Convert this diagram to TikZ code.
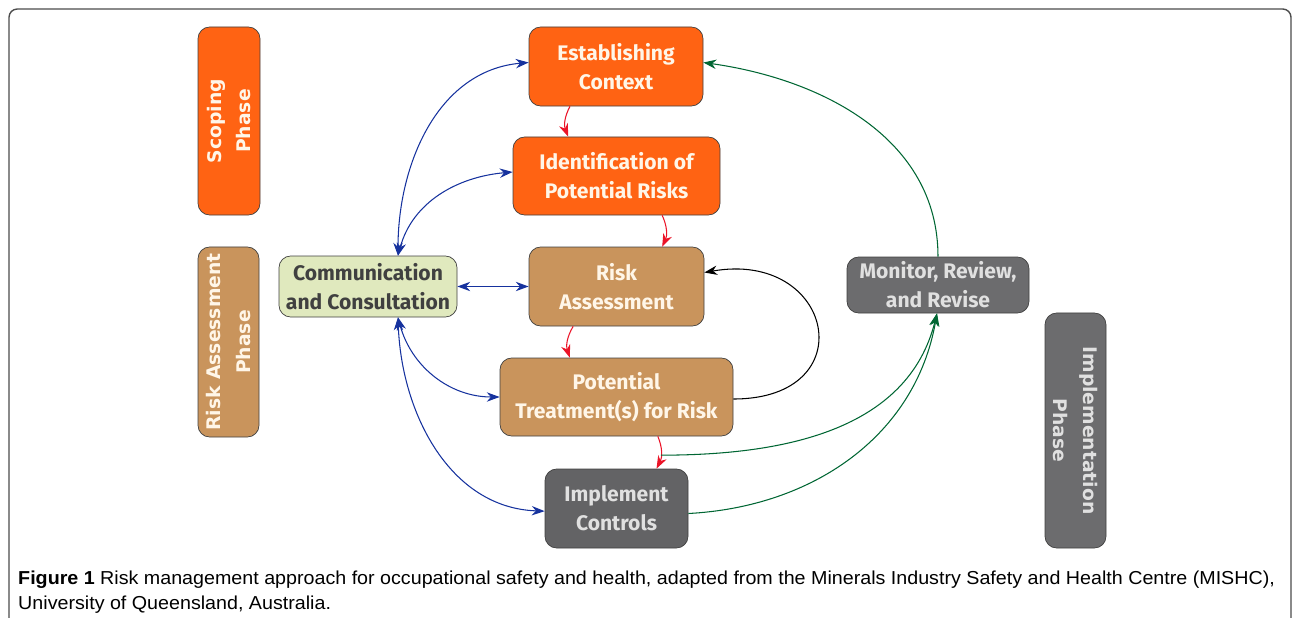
\documentclass[tikz,border=0pt]{standalone}
\usepackage{fontspec}
\setmainfont{Fira Sans}
\newfontfamily\capfont{Liberation Sans}
\newfontfamily\phasefont{DejaVu Sans}
\usetikzlibrary{calc,arrows.meta}
\definecolor{scopeorange}{RGB}{255,99,19}
\definecolor{assesstan}{RGB}{201,148,92}
\definecolor{implgray}{RGB}{108,108,110}
\definecolor{commgreen}{RGB}{224,233,190}
\definecolor{flowred}{RGB}{235,20,40}
\definecolor{flowblue}{RGB}{22,50,158}
\definecolor{flowgreen}{RGB}{0,102,51}
\definecolor{cream}{RGB}{255,246,232}
\newlength\capw
\newcommand\capone{\textbf{Figure 1} Risk management approach for occupational safety and health, adapted from the Minerals Industry Safety and Health Centre (MISHC),}
\newcommand\captwo{University of Queensland, Australia.}

\begin{document}
\settowidth\capw{\capfont\fontsize{16}{18}\selectfont\capone}
\begin{tikzpicture}[x=0.03cm,y=-0.03cm,>={Stealth[length=11pt,width=8pt]},
  box/.style={draw=black!75,line width=0.6pt,rounded corners=0.35cm,align=center,
    inner sep=1pt,font=\fontsize{18}{24.7}\selectfont\bfseries},
  phase/.style={font=\phasefont\fontsize{16}{25.5}\selectfont\bfseries},
  scopebox/.style={box,fill=scopeorange,text=cream},
  assessbox/.style={box,fill=assesstan,text=cream},
  implbox/.style={box,fill=implgray,text=black!12},
  commbox/.style={box,fill=commgreen,text=black!75},
  redflow/.style={->,flowred,line width=0.9pt},
  blueflow/.style={<->,flowblue,line width=0.9pt},
  greenflow/.style={->,flowgreen,line width=0.9pt}]
  \useasboundingbox (0,0) rectangle (1292,618);
  \draw[black!70,line width=1.2pt,rounded corners=0.25cm] (9,660)--(9,9)--(1291,9)--(1291,660);

  % phases
  \node[scopebox,phase,rotate=90,minimum width=5.64cm,minimum height=1.86cm] (scope) at (229,121) {Scoping\\Phase};
  \node[assessbox,phase,rotate=90,minimum width=5.7cm,minimum height=1.83cm] (assess) at (228.5,342) {Risk Assessment\\Phase};
  \node[implbox,phase,rotate=-90,minimum width=7.05cm,minimum height=1.83cm] (impl) at (1075.5,430.5) {Implementation\\Phase};

  % steps
  \node[scopebox,minimum width=5.22cm,minimum height=2.37cm] (ec) at (616,66.5) {Establishing\\Context};
  \node[scopebox,minimum width=6.21cm,minimum height=2.34cm] (ipr) at (616.5,176) {Identification of\\Potential Risks};
  \node[assessbox,minimum width=5.25cm,minimum height=2.37cm] (ra) at (616.5,286.5) {Risk\\Assessment};
  \node[assessbox,minimum width=6.99cm,minimum height=2.34cm] (pt) at (616.5,397) {Potential\\Treatment(s) for Risk};
  \node[implbox,fill=implgray!92!black,minimum width=4.29cm,minimum height=2.37cm] (ic) at (616.5,508.5) {Implement\\Controls};
  \node[commbox,minimum width=5.34cm,minimum height=1.83cm] (cc) at (368,286.5) {Communication\\and Consultation};
  \node[implbox,minimum width=5.46cm,minimum height=1.68cm] (mrr) at (938,285) {Monitor, Review,\\and Revise};

  % main sequence
  \draw[redflow] ([xshift=-1.38cm]ec.south) to[bend right=25] ([xshift=-1.45cm]ipr.north);
  \draw[redflow] ([xshift=1.37cm]ipr.south) to[bend left=25] ([xshift=1.37cm]ra.north);
  \draw[redflow] ([xshift=-1.3cm]ra.south) to[bend right=25] ([xshift=-1.4cm]pt.north);
  \draw[redflow] ([xshift=1.24cm]pt.south) to[bend left=25] coordinate[pos=0.58] (junc) ([xshift=1.2cm]ic.north);
  \draw[->,black,line width=0.9pt] ([yshift=-0.06cm]pt.east) to[out=0,in=10,looseness=2.6] ([yshift=0.42cm]ra.east);

  % communication
  \draw[blueflow] ([xshift=0.9cm]cc.north) to[out=90,in=185] ([yshift=0.12cm]ec.west);
  \draw[blueflow] ([xshift=0.9cm]cc.north) to[out=75,in=185] ([yshift=0.12cm]ipr.west);
  \draw[blueflow] (cc.east) -- (ra.west);
  \draw[blueflow] ([xshift=0.9cm]cc.south) to[out=-75,in=180] (pt.west);
  \draw[blueflow] ([xshift=0.9cm]cc.south) to[out=-88,in=178] ([yshift=-0.08cm]ic.west);

  % monitoring
  \draw[greenflow] ([yshift=-0.15cm]ic.east) to[out=3,in=-100] ([xshift=-0.03cm]mrr.south);
  \draw[greenflow] (junc) to[out=0,in=-104] ([xshift=-0.03cm]mrr.south);
  \draw[greenflow] (mrr.north) to[out=90,in=-8] ([yshift=0.12cm]ec.east);

  % caption, both lines condensed alike
  \pgfmathsetmacro\capf{37.7cm/\capw}
  \node[anchor=base west,inner sep=0pt] (cap1) at (18,584)
    {\scalebox{\capf}[1]{\capfont\fontsize{16}{18}\selectfont\capone}};
  \node[anchor=base west,inner sep=0pt] (cap2) at (18,609)
    {\scalebox{\capf}[1]{\capfont\fontsize{16}{18}\selectfont\captwo}};
\end{tikzpicture}
\end{document}
